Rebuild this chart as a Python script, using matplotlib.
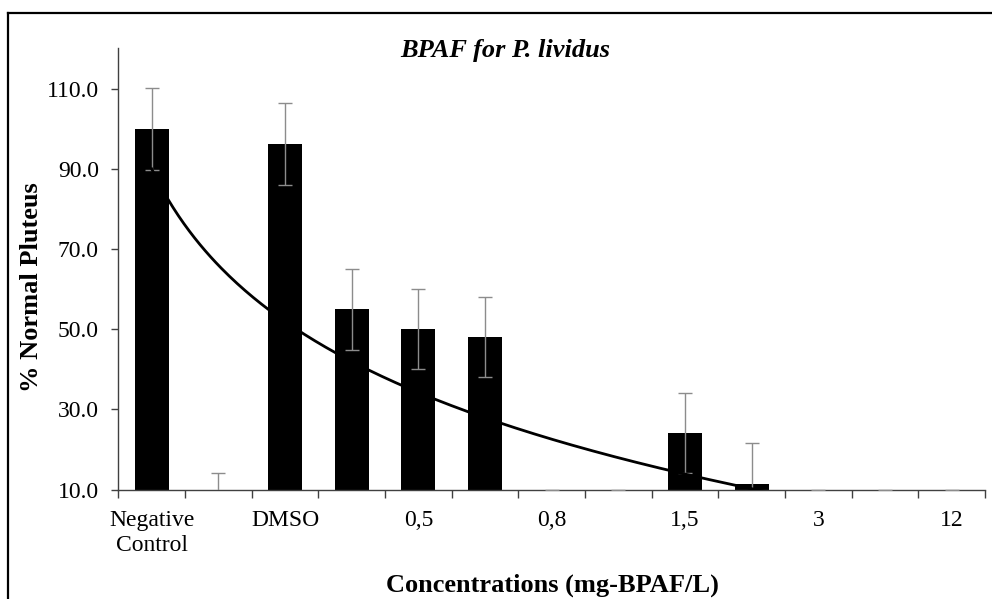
import numpy as np
import matplotlib
matplotlib.use("Agg")
import matplotlib.pyplot as plt
from matplotlib.lines import Line2D

plt.rcParams['font.family'] = ['Liberation Serif', 'DejaVu Serif']

# tick labels, every second category is left blank
categories = ["Negative\nControl", "", "DMSO", "", "0,5", "", "0,8", "", "1,5", "", "3", "", "12"]
normal_pct = [100.0, 4.0, 96.3, 55.0, 50.0, 48.0, 0.0, 0.0, 24.0, 11.4, 0.0, 0.0, 0.0]
sd_pct = [10.2, 10.0, 10.3, 10.1, 10.0, 10.0, 10.0, 10.0, 10.0, 10.1, 10.0, 10.0, 10.0]

fig = plt.figure(figsize=(9.92, 5.99), dpi=100)
ax = fig.add_axes([0.1193, 0.1828, 0.8737, 0.7366])

x = np.arange(len(categories))
ax.bar(x, normal_pct, width=0.51, color="black", zorder=2)
ax.errorbar(x, normal_pct, yerr=sd_pct, fmt="none", ecolor="#8c8c8c",
            elinewidth=1.0, capsize=5, capthick=1.0, zorder=3)

# logarithmic trend line fitted on the category positions (1-based)
pos = x + 1
slope, intercept = np.polyfit(np.log(pos), normal_pct, 1)
xs = np.linspace(1, len(categories), 300)
ax.plot(xs - 1, slope * np.log(xs) + intercept, color="black", lw=2.0, zorder=4)

ax.set_xlim(-0.5, len(categories) - 0.5)
ax.set_ylim(10, 120.25)
ax.set_yticks(np.arange(10, 111, 20))
ax.set_yticklabels(["%.1f" % v for v in np.arange(10, 111, 20)])

ax.set_xticks(np.arange(-0.5, len(categories), 1.0))
ax.set_xticklabels([])
ax.set_xticks(x, minor=True)
ax.set_xticklabels(categories, minor=True, linespacing=1.25)
ax.tick_params(axis="x", which="major", direction="out", length=6, width=1, color="#404040")
ax.tick_params(axis="x", which="minor", length=0, pad=14.5, labelsize=17)
ax.tick_params(axis="y", direction="out", length=5, width=1, color="#404040", pad=9, labelsize=17)

for s in ("top", "right"):
    ax.spines[s].set_visible(False)
for s in ("left", "bottom"):
    ax.spines[s].set_color("#404040")
    ax.spines[s].set_linewidth(1.0)

fig.text(505 / 992, 1 - 51 / 599, "BPAF for P. lividus", fontsize=19, fontweight="bold",
         style="italic", ha="center", va="center")
fig.text(552 / 992, 1 - 585 / 599, "Concentrations (mg-BPAF/L)", fontsize=19,
         fontweight="bold", ha="center", va="center")
fig.text(31.5 / 992, 1 - 287 / 599, "% Normal Pluteus", fontsize=19, fontweight="bold",
         rotation=90, ha="center", va="center")

# frame lines on the left and top of the figure
fig.add_artist(Line2D([8 / 992, 8 / 992], [0, 1 - 13 / 599], color="black", lw=1.6, transform=fig.transFigure))
fig.add_artist(Line2D([8 / 992, 1], [1 - 13 / 599, 1 - 13 / 599], color="black", lw=1.6, transform=fig.transFigure))

fig.savefig("out.png", dpi=100)
